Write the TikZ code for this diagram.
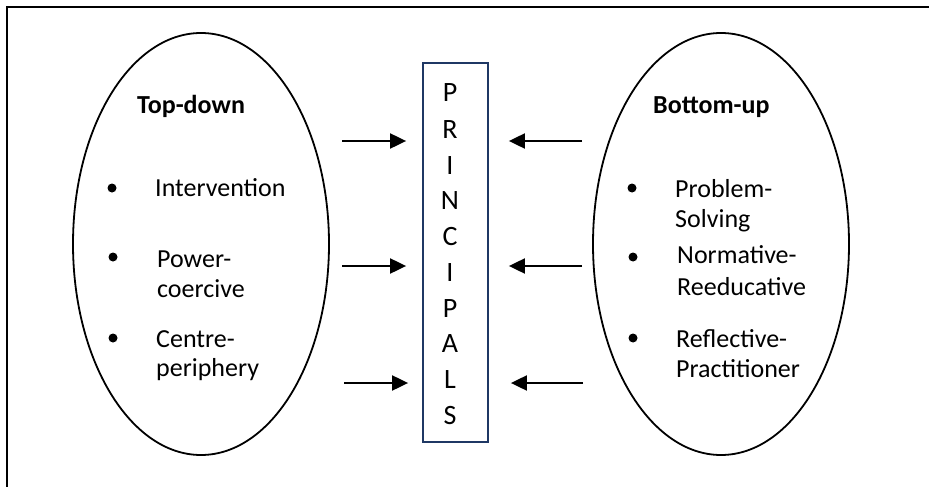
\documentclass[tikz,border=0pt]{standalone}
\usepackage{fontspec}
\setmainfont{Carlito}
\usetikzlibrary{arrows.meta}
\definecolor{boxblue}{RGB}{31,56,100}
\tikzset{
  txt/.style={font=\fontsize{26}{31}\selectfont, inner sep=0pt, anchor=base west},
  head/.style={txt, font=\fontsize{26}{31}\selectfont\bfseries},
  letter/.style={font=\fontsize{28}{33}\selectfont, inner sep=0pt, anchor=base},
  bulletdot/.style={circle, fill=black, inner sep=0pt, minimum size=9pt},
  oval/.style={line width=1.8pt},
  flow/.style={line width=2pt, -{Triangle[length=16pt,width=15pt]}},
  framebox/.style={draw=boxblue, line width=1.8pt}
}
\begin{document}
\begin{tikzpicture}[x=1pt,y=-1pt]
\useasboundingbox (0,0) rectangle (929,487);
% frame
\draw[line width=1.6pt] (7,487) -- (7,7) -- (929,7);
% ellipses
\draw[oval] (201,244) ellipse [x radius=128, y radius=211];
\draw[oval] (721,244) ellipse [x radius=128, y radius=211];
% central box
\node[framebox, minimum width=65pt, minimum height=379pt, inner sep=0pt] (box) at (455.5,252.5) {};
\foreach \L/\Y [count=\i] in {P/102,R/138,I/174,N/209,C/245,I/281,P/317,A/352,L/388,S/424}{
  \node[letter] (let\i) at (450,\Y) {\L};
}
% left group
\node[head] (td) at (137,113) {Top-down};
\node[bulletdot] (lb1) at (112,188) {};
\node[bulletdot] (lb2) at (113,257) {};
\node[bulletdot] (lb3) at (113,338) {};
\node[txt] (l1) at (155,196) {Intervention};
\node[txt] (l2a) at (157,267) {Power-};
\node[txt] (l2b) at (157,297) {coercive};
\node[txt] (l3a) at (156,347) {Centre-};
\node[txt] (l3b) at (156,376) {periphery};
% right group
\node[head] (bu) at (653,113) {Bottom-up};
\node[bulletdot] (rb1) at (632,188) {};
\node[bulletdot] (rb2) at (633,257) {};
\node[bulletdot] (rb3) at (633,338) {};
\node[txt] (r1a) at (675,197) {Problem-};
\node[txt] (r1b) at (675,227) {Solving};
\node[txt] (r2a) at (677,263) {Normative-};
\node[txt] (r2b) at (677,295) {Reeducative};
\node[txt] (r3a) at (676,347) {Reflective-};
\node[txt] (r3b) at (676,377) {Practitioner};
% arrows
\coordinate (la1) at (342,141);
\coordinate (la2) at (342,266);
\coordinate (la3) at (344,383);
\coordinate (ra1) at (582,141);
\coordinate (ra2) at (582,266);
\coordinate (ra3) at (583,383);
\draw[flow, shorten >=16pt] (la1) -- (box.west |- la1);
\draw[flow, shorten >=16pt] (la2) -- (box.west |- la2);
\draw[flow, shorten >=14pt] (la3) -- (box.west |- la3);
\draw[flow, shorten >=20pt] (ra1) -- (box.east |- ra1);
\draw[flow, shorten >=20pt] (ra2) -- (box.east |- ra2);
\draw[flow, shorten >=22pt] (ra3) -- (box.east |- ra3);
\end{tikzpicture}
\end{document}
